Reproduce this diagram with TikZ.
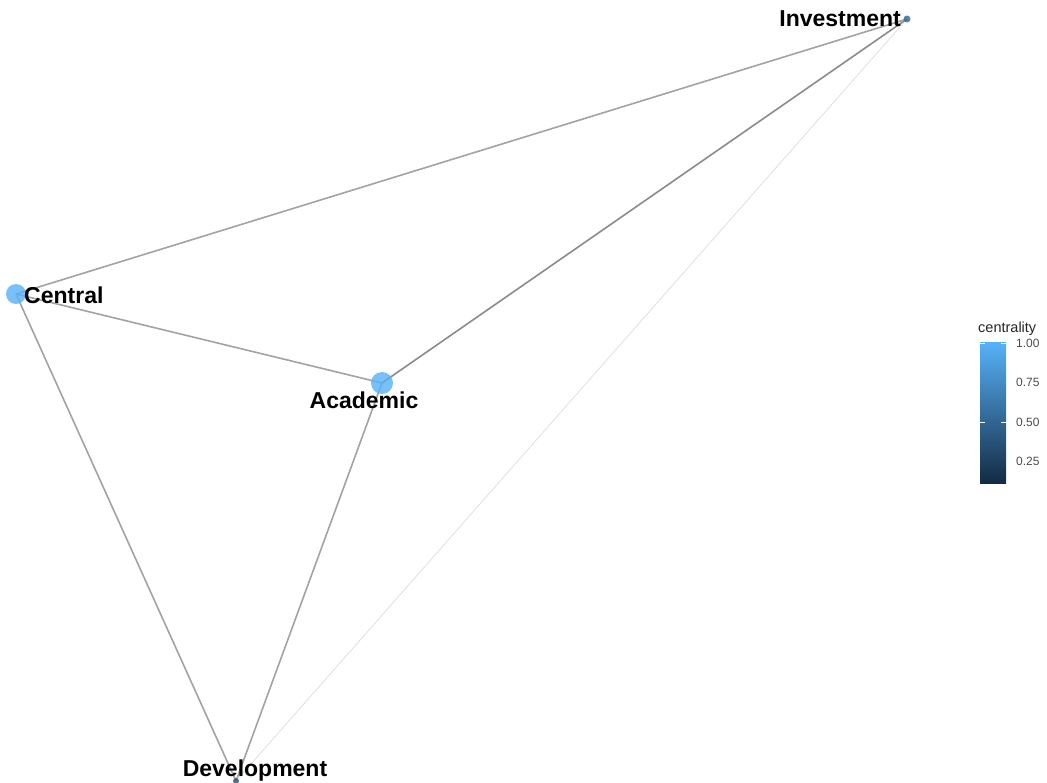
\documentclass[tikz,border=0pt]{standalone}
\usepackage{fontspec}
\setmainfont{Liberation Sans}
\begin{document}
\definecolor{hicol}{HTML}{56B1F7}
\definecolor{locol}{HTML}{132B43}
\definecolor{edgecol}{HTML}{A3A3A3}
\definecolor{axistext}{HTML}{4D4D4D}
\begin{tikzpicture}[x=1pt,y=-1pt,
  vertex/.style={circle,inner sep=0pt,draw=none,fill opacity=0.8},
  vlabel/.style={font=\fontsize{23}{27}\selectfont\bfseries,text=black,inner sep=0pt,anchor=base},
  link/.style={draw=edgecol,line width=1.6pt},
  faintlink/.style={draw=black!12,line width=0.8pt},
  ticklabel/.style={font=\fontsize{12}{14}\selectfont,text=axistext,inner sep=0pt,anchor=west}]
\useasboundingbox (0,0) rectangle (1047,783);
\fill[white] (0,0) rectangle (1047,783);

% vertex positions
\coordinate (pInv) at (907,19);
\coordinate (pCen) at (16,294);
\coordinate (pAca) at (382,383);
\coordinate (pDev) at (236,781);

% edges
\draw[faintlink] (pInv) -- (pDev);
\draw[link] (pCen) -- (pInv);
\draw[link] (pCen) -- (pAca);
\draw[link] (pCen) -- (pDev);
\draw[link] (pAca) -- (pDev);
\draw[link,draw=edgecol!85!black] (pAca) -- (pInv);

% vertices, sized and coloured by centrality
\node[vertex,minimum size=7pt,fill=hicol!45!locol] (inv) at (pInv) {};
\node[vertex,minimum size=20pt,fill=hicol] (cen) at (pCen) {};
\node[vertex,minimum size=22pt,fill=hicol] (aca) at (pAca) {};
\node[vertex,minimum size=6pt,fill=hicol!30!locol] (dev) at (pDev) {};

% vertex labels
\node[vlabel,anchor=base east] (tInv) at (901,27) {Investment};
\node[vlabel,anchor=base west] (tCen) at (24,304) {Central};
\node[vlabel] (tAca) at (364,409) {Academic};
\node[vlabel] (tDev) at (255,776) {Development};

% colour bar legend
\node[font=\fontsize{14.5}{17}\selectfont,text=black!85,inner sep=0pt,anchor=base west] (ltitle) at (978,333) {centrality};
\shade[top color=hicol,bottom color=locol] (980,343) rectangle (1006,483);
\foreach \yy in {343,422.5}{
  \draw[white,line width=0.8pt] (980,\yy) -- (985,\yy);
  \draw[white,line width=0.8pt] (1001,\yy) -- (1006,\yy);
}
\node[ticklabel] (l100) at (1016,343) {1.00};
\node[ticklabel] (l075) at (1016,382.5) {0.75};
\node[ticklabel] (l050) at (1016,422) {0.50};
\node[ticklabel] (l025) at (1016,461.5) {0.25};
\end{tikzpicture}
\end{document}
